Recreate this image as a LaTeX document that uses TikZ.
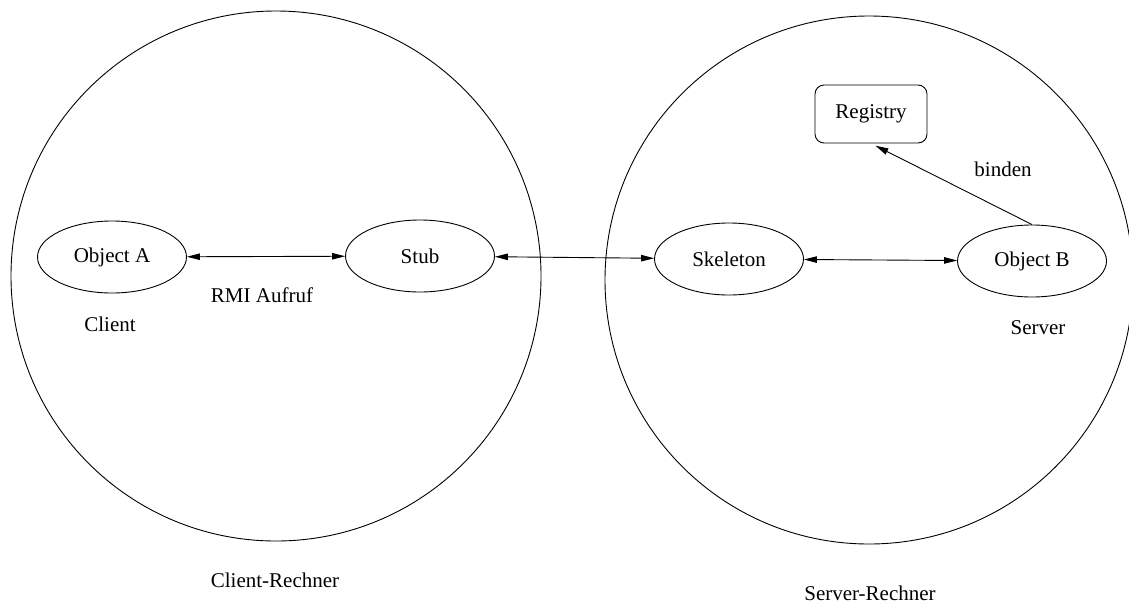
\documentclass[tikz,border=0pt]{standalone}
\usepackage{fontspec}
\setmainfont{Liberation Serif}
\usetikzlibrary{shapes.geometric,arrows.meta}
\begin{document}
\begin{tikzpicture}[x=1pt,y=-1pt,
    font=\fontsize{21}{25}\selectfont,
    line width=0.9pt,
    host/.style={draw,circle,minimum size=#1,inner sep=0pt},
    obj/.style={draw,ellipse,minimum width=149pt,minimum height=72pt,inner sep=0pt},
    regbox/.style={draw,rectangle,rounded corners=9pt,minimum width=112pt,minimum height=58pt,inner sep=0pt},
    lbl/.style={inner sep=0pt},
    link/.style={{Triangle[length=13pt,width=6.5pt]}-{Triangle[length=13pt,width=6.5pt]}},
    bindarrow/.style={-{Triangle[length=13pt,width=6.5pt]}}]
  \useasboundingbox (0,0) rectangle (1129,603);
  \clip (0,0) rectangle (1129,603);

  % the two hosts
  \node[host=530pt] (clienthost) at (276,276) {};
  \node[host=528pt] (serverhost) at (869,280) {};
  \node[lbl] (clientrechner) at (275,580) {Client-Rechner};
  \node[lbl] (serverrechner) at (870,593) {Server-Rechner};

  % objects on the client side
  \node[obj] (obja) at (112,257) {Object A};
  \node[obj] (stub) at (420,256) {Stub};
  \node[lbl] (client) at (110,324) {Client};
  \node[lbl] (rmi) at (262,295) {RMI Aufruf};

  % objects on the server side
  \node[obj] (skel) at (729,259) {Skeleton};
  \node[obj] (objb) at (1032,261) {Object B};
  \node[regbox] (reg) at (871,114) {Registry};
  \node[lbl] (server) at (1038,328) {Server};
  \node[lbl] (binden) at (1003,169) {binden};

  % connections
  \draw[link] (obja) -- (stub);
  \draw[link] (stub) -- (skel);
  \draw[link] (skel) -- (objb);
  \draw[bindarrow,shorten >=5pt] (objb.north) -- (reg.south);
\end{tikzpicture}
\end{document}
